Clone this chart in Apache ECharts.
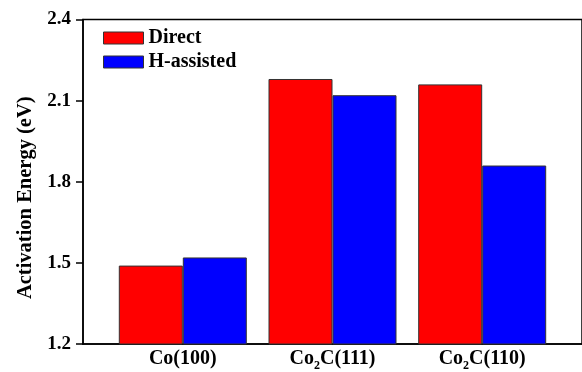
<!DOCTYPE html>
<html>
<head>
<meta charset="utf-8">
<script src="https://cdn.jsdelivr.net/npm/echarts@6/dist/echarts.min.js"></script>
<style>html,body{margin:0;padding:0;background:#fff}#c{width:582px;height:372px}</style>
</head>
<body>
<div id="c"></div>
<script>
// Data
var categories = ['Co(100)', 'Co2C(111)', 'Co2C(110)'];
var directValues = [1.49, 2.18, 2.16];
var hAssistedValues = [1.52, 2.12, 1.86];
var yTicks = [1.2, 1.5, 1.8, 2.1, 2.4];
var seriesNames = ['Direct', 'H-assisted'];

var FONT = '"Liberation Serif", "Times New Roman", serif';
var positions = categories.map(function (c, i) { return i + 1; });

function richLabel(name) {
  var m = name.match(/^(Co)(2)(C.*)$/);
  if (m) return '{a|' + m[1] + '}{s|' + m[2] + '}{a|' + m[3] + '}';
  return '{a|' + name + '}';
}

var chart = echarts.init(document.getElementById('c'), null, { renderer: 'canvas' });
chart.setOption({
  animation: false,
  backgroundColor: '#fff',
  grid: {
    left: 83, right: -10, top: 19.5, bottom: 25,
    show: true, borderColor: '#000', borderWidth: 1.5, backgroundColor: 'transparent'
  },
  legend: {
    orient: 'vertical',
    left: 98, top: 23,
    icon: 'rect',
    itemWidth: 40, itemHeight: 12, itemGap: 4,
    data: seriesNames,
    textStyle: { fontFamily: FONT, fontWeight: 'bold', fontSize: 20, color: '#000', lineHeight: 20 },
    itemStyle: { borderColor: '#333', borderWidth: 1 }
  },
  xAxis: {
    type: 'value',
    min: 1 / 3, max: 11 / 3,
    splitLine: { show: false },
    axisLine: { show: true, onZero: false, lineStyle: { color: '#000', width: 1.5 } },
    axisTick: { show: false },
    axisLabel: {
      customValues: positions,
      margin: 4,
      formatter: function (v) { return richLabel(categories[Math.round(v) - 1]); },
      rich: {
        a: { fontFamily: FONT, fontWeight: 'bold', fontSize: 20, color: '#000', lineHeight: 21, verticalAlign: 'bottom' },
        s: { fontFamily: FONT, fontWeight: 'bold', fontSize: 12, color: '#000', lineHeight: 21, verticalAlign: 'bottom', padding: [0, 0, -3, 0] }
      }
    }
  },
  yAxis: {
    type: 'value',
    min: yTicks[0], max: yTicks[yTicks.length - 1], interval: 0.3,
    name: 'Activation Energy (eV)',
    nameLocation: 'middle',
    nameGap: 46,
    nameTextStyle: { fontFamily: FONT, fontWeight: 'bold', fontSize: 20.5, color: '#000', padding: [0, 32, 0, 0] },
    splitLine: { show: false },
    axisLine: { show: true, lineStyle: { color: '#000', width: 1.5 } },
    axisTick: { show: true, inside: false, length: 7, lineStyle: { color: '#000', width: 1.5 } },
    axisLabel: {
      margin: 12,
      fontFamily: FONT, fontWeight: 'bold', fontSize: 19, color: '#000',
      formatter: function (v) { return v.toFixed(1); }
    }
  },
  series: [
    {
      name: seriesNames[0], type: 'bar', barWidth: 64, barGap: '0%',
      itemStyle: { color: '#ff0000', borderColor: '#333', borderWidth: 1 },
      data: positions.map(function (p, i) { return [p, directValues[i]]; })
    },
    {
      name: seriesNames[1], type: 'bar', barWidth: 64, barGap: '0%',
      itemStyle: { color: '#0000ff', borderColor: '#333', borderWidth: 1 },
      data: positions.map(function (p, i) { return [p, hAssistedValues[i]]; })
    }
  ]
});
</script>
</body>
</html>
